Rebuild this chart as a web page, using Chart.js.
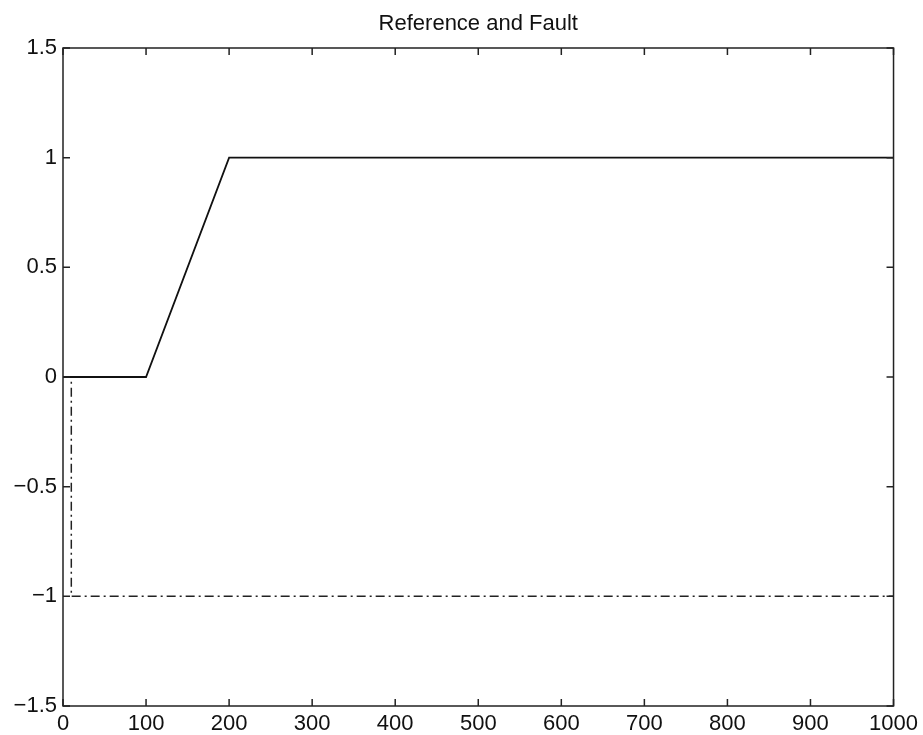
<!DOCTYPE html>
<html>
<head>
<meta charset="utf-8">
<script src="https://cdn.jsdelivr.net/npm/chart.js"></script>
<style>
  html, body { margin: 0; padding: 0; background: #fff; }
  #wrap { width: 923px; height: 735px; }
</style>
</head>
<body>
<div id="wrap"><canvas id="myChart" width="923" height="735"></canvas></div>
<script>
// reference signal and fault signal
var refX = [0, 100, 200, 1000];
var refY = [0, 0, 1, 1];
var faultX = [0, 10, 10, 1000];
var faultY = [0, 0, -1, -1];
var xTicks = [0, 100, 200, 300, 400, 500, 600, 700, 800, 900, 1000];
var yTicks = [-1.5, -1, -0.5, 0, 0.5, 1, 1.5];
var titleText = "Reference and Fault";

function pts(xs, ys) {
  return xs.map(function (x, i) { return { x: x, y: ys[i] }; });
}

var font = "'Liberation Sans', Arial, Helvetica, sans-serif";

// box + inward tick marks on all four sides, like the old matlab plots
// title is centred over the plot box, not the whole canvas
var boxTicks = {
  id: "boxTicks",
  afterDraw: function (chart) {
    var ctx = chart.ctx, a = chart.chartArea;
    var xs = chart.scales.x, ys = chart.scales.y;
    var len = 7;
    ctx.save();
    ctx.strokeStyle = "#222";
    ctx.lineWidth = 1.5;
    ctx.strokeRect(a.left, a.top, a.right - a.left, a.bottom - a.top);
    ctx.beginPath();
    xTicks.forEach(function (v) {
      var px = xs.getPixelForValue(v);
      ctx.moveTo(px, a.bottom); ctx.lineTo(px, a.bottom - len);
      ctx.moveTo(px, a.top); ctx.lineTo(px, a.top + len);
    });
    yTicks.forEach(function (v) {
      var py = ys.getPixelForValue(v);
      ctx.moveTo(a.left, py); ctx.lineTo(a.left + len, py);
      ctx.moveTo(a.right, py); ctx.lineTo(a.right - len, py);
    });
    ctx.stroke();

    ctx.fillStyle = "#111";
    ctx.font = "22px " + font;
    ctx.textAlign = "center";
    ctx.textBaseline = "alphabetic";
    ctx.fillText(titleText, (a.left + a.right) / 2, 30);
    ctx.restore();
  }
};

var ctx = document.getElementById("myChart").getContext("2d");
var myChart = new Chart(ctx, {
  type: "line",
  data: {
    datasets: [
      {
        label: "Reference",
        data: pts(refX, refY),
        borderColor: "#111",
        borderWidth: 1.8,
        pointRadius: 0,
        tension: 0
      },
      {
        label: "Fault",
        data: pts(faultX, faultY),
        borderColor: "#222",
        borderWidth: 1.5,
        borderDash: [9, 4, 2, 4],
        pointRadius: 0,
        tension: 0
      }
    ]
  },
  options: {
    responsive: false,
    animation: false,
    layout: { padding: { top: 48, right: 29, bottom: 0, left: 0 } },
    plugins: {
      legend: { display: false },
      tooltip: { enabled: false },
      title: { display: false }
    },
    scales: {
      x: {
        type: "linear",
        min: 0,
        max: 1000,
        afterBuildTicks: function (s) { s.ticks = xTicks.map(function (v) { return { value: v }; }); },
        afterFit: function (s) { s.height = 29; },
        grid: { display: false, drawTicks: false },
        border: { display: false },
        ticks: {
          color: "#111",
          padding: 5,
          maxRotation: 0,
          font: { family: font, size: 22 },
          callback: function (v) { return String(v); }
        }
      },
      y: {
        type: "linear",
        min: -1.5,
        max: 1.5,
        afterBuildTicks: function (s) { s.ticks = yTicks.map(function (v) { return { value: v }; }); },
        afterFit: function (s) { s.width = 63; },
        grid: { display: false, drawTicks: false },
        border: { display: false },
        ticks: {
          color: "#111",
          padding: 6,
          font: { family: font, size: 22 },
          callback: function (v) { return String(v).replace("-", "\u2212"); }
        }
      }
    }
  },
  plugins: [boxTicks]
});
</script>
</body>
</html>
